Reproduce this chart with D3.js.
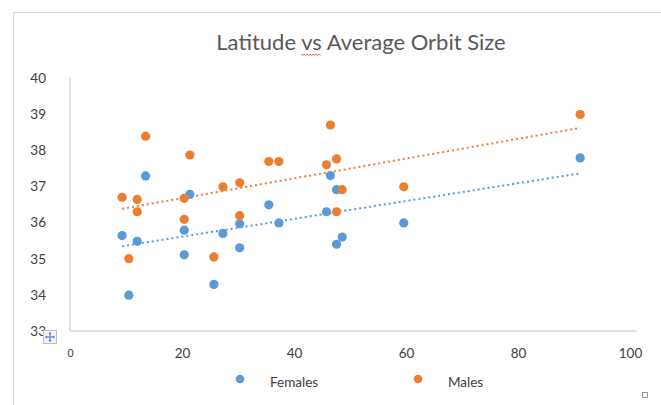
<!DOCTYPE html>
<html>
<head>
<meta charset="utf-8">
<script src="https://cdn.jsdelivr.net/npm/d3@7"></script>
<style>
  html, body { margin: 0; padding: 0; background: #fff; }
  svg { display: block; }
</style>
</head>
<body>
<svg id="chart" width="661" height="405"></svg>
<script>
const title = "Latitude vs Average Orbit Size";
const seriesNames = ["Females", "Males"];
const seriesColors = ["#5B9BD5", "#ED7D31"];

const femaleLat = [9.3, 10.5, 12.0, 13.5, 20.4, 20.4, 21.4, 25.7, 27.3, 30.3, 30.3, 35.5, 37.3, 45.8, 46.5, 47.6, 47.6, 48.6, 59.6, 91.1];
const femaleOrbit = [35.64, 33.99, 35.48, 37.29, 35.79, 35.11, 36.78, 34.29, 35.70, 35.97, 35.30, 36.49, 35.99, 36.30, 37.30, 36.91, 35.40, 35.60, 35.99, 37.79];

const maleLat = [9.3, 10.5, 12.0, 12.0, 13.5, 20.4, 20.4, 21.4, 25.7, 27.3, 30.3, 30.3, 35.5, 37.3, 45.8, 46.5, 47.6, 47.6, 48.6, 59.6, 91.1];
const maleOrbit = [36.70, 35.00, 36.64, 36.30, 38.39, 36.67, 36.09, 37.87, 35.05, 36.99, 37.10, 36.19, 37.69, 37.69, 37.60, 38.70, 37.76, 36.30, 36.91, 36.99, 38.99];

const xTicks = [0, 20, 40, 60, 80, 100];
const yTicks = [33, 34, 35, 36, 37, 38, 39, 40];

const svg = d3.select("#chart");
const fontFamily = "Lato, 'Open Sans', sans-serif";

// chart frame (partial border as in screenshot)
svg.append("line").attr("x1", 13.5).attr("x2", 13.5).attr("y1", 12.5).attr("y2", 405)
  .attr("stroke", "#d9d9d9").attr("stroke-width", 1);
svg.append("line").attr("x1", 13.5).attr("x2", 661).attr("y1", 12.5).attr("y2", 12.5)
  .attr("stroke", "#d9d9d9").attr("stroke-width", 1);

const x = d3.scaleLinear().domain([0, 100]).range([70, 630]);
const y = d3.scaleLinear().domain([33, 40]).range([331, 78]);

// axes lines
svg.append("line").attr("x1", 70).attr("x2", 70).attr("y1", y(40)).attr("y2", y(33))
  .attr("stroke", "#d9d9d9").attr("stroke-width", 1.5);
svg.append("line").attr("x1", 70).attr("x2", 637).attr("y1", y(33)).attr("y2", y(33))
  .attr("stroke", "#d9d9d9").attr("stroke-width", 1.5);

// y tick labels
const yAxis = d3.axisLeft(y).tickValues(yTicks).tickSize(0).tickPadding(0).tickFormat(d3.format("d"));
const gy = svg.append("g").attr("transform", "translate(46,0)").call(yAxis);
gy.select(".domain").remove();
gy.selectAll("text").attr("font-family", fontFamily).attr("font-size", 13.5).attr("fill", "#404040");

// x tick labels
const xAxis = d3.axisBottom(x).tickValues(xTicks).tickSize(0).tickPadding(0).tickFormat(d3.format("d"));
const gx = svg.append("g").attr("transform", "translate(0,348)").call(xAxis);
gx.select(".domain").remove();
gx.selectAll("text").attr("font-family", fontFamily).attr("font-size", 13.5).attr("fill", "#404040");
gx.selectAll("text").filter(d => d === 0).attr("font-size", 10.5).attr("dy", "0.9em");

// trendlines (least squares)
function fit(xs, ys) {
  const n = xs.length;
  const mx = d3.mean(xs), my = d3.mean(ys);
  let sxy = 0, sxx = 0;
  for (let i = 0; i < n; i++) { sxy += (xs[i] - mx) * (ys[i] - my); sxx += (xs[i] - mx) ** 2; }
  const b = sxy / sxx, a = my - b * mx;
  const x0 = d3.min(xs), x1 = d3.max(xs);
  return [[x0, a + b * x0], [x1, a + b * x1]];
}
const series = [
  { xs: femaleLat, ys: femaleOrbit, color: seriesColors[0] },
  { xs: maleLat, ys: maleOrbit, color: seriesColors[1] }
];
const line = d3.line().x(d => x(d[0])).y(d => y(d[1]));
series.forEach(s => {
  svg.append("path").datum(fit(s.xs, s.ys)).attr("d", line)
    .attr("fill", "none").attr("stroke", s.color).attr("stroke-width", 2)
    .attr("stroke-dasharray", "2,3");
});

// points
series.forEach(s => {
  svg.append("g").selectAll("circle").data(s.xs.map((v, i) => [v, s.ys[i]])).join("circle")
    .attr("cx", d => x(d[0])).attr("cy", d => y(d[1])).attr("r", 4.6)
    .attr("fill", s.color);
});

// title
const t = svg.append("text").attr("x", 361).attr("y", 50).attr("text-anchor", "middle")
  .attr("font-family", fontFamily).attr("font-size", 22).attr("fill", "#595959");
t.append("tspan").text("Latitude ");
const vs = t.append("tspan").text("vs");
t.append("tspan").text(" Average Orbit Size");
// spell-check squiggle under "vs"
{
  const node = t.node();
  const start = node.getStartPositionOfChar(9).x;
  const end = node.getEndPositionOfChar(10).x;
  const yy = 54;
  let d = `M${start},${yy}`;
  let k = 0;
  for (let px = start + 1.5; px <= end + 0.01; px += 1.5) { d += `L${px},${yy + (k % 2 === 0 ? 1.5 : 0)}`; k++; }
  svg.append("path").attr("d", d).attr("fill", "none").attr("stroke", "#e03030").attr("stroke-width", 0.8);
}

// legend
const legendX = [240, 418];
seriesNames.forEach((name, i) => {
  svg.append("circle").attr("cx", legendX[i]).attr("cy", 379).attr("r", 4.3).attr("fill", seriesColors[i]);
  svg.append("text").attr("x", legendX[i] + 30).attr("y", 382).attr("dy", "0.35em")
    .attr("font-family", fontFamily).attr("font-size", 13.5).attr("fill", "#404040").text(name);
});

// move handle icon near origin
const ic = svg.append("g").attr("transform", "translate(43,330)");
ic.append("rect").attr("x", 0.5).attr("y", 0.5).attr("width", 13).attr("height", 13)
  .attr("fill", "#f2f2f2").attr("stroke", "#bfbfbf");
ic.append("path").attr("d", "M7,3 L7,11 M3,7 L11,7").attr("stroke", "#3c78d8").attr("stroke-width", 1);
ic.append("path").attr("d", "M7,2 L5.5,4 L8.5,4 Z M7,12 L5.5,10 L8.5,10 Z M2,7 L4,5.5 L4,8.5 Z M12,7 L10,5.5 L10,8.5 Z")
  .attr("fill", "#3c78d8");

// resize handle bottom-right
svg.append("rect").attr("x", 642.5).attr("y", 392.5).attr("width", 5).attr("height", 5)
  .attr("fill", "#fff").attr("stroke", "#7f7f7f").attr("stroke-width", 0.8);
</script>
</body>
</html>
